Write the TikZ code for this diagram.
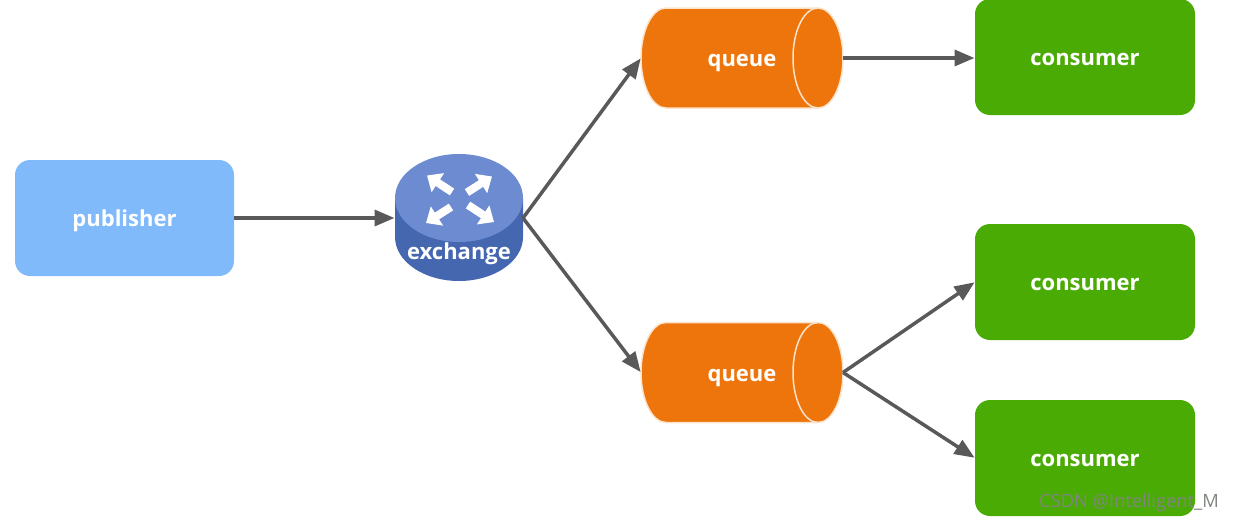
\documentclass[tikz,border=0pt]{standalone}
\usepackage{fontspec}
\setmainfont{Open Sans}
\newfontfamily\lblfont[FakeBold=0.6]{Open Sans}
\usetikzlibrary{arrows.meta}
\definecolor{pubblue}{HTML}{80BAFB}
\definecolor{congreen}{HTML}{4AAB05}
\definecolor{qorange}{HTML}{EE750C}
\definecolor{qedge}{HTML}{FBE3CC}
\definecolor{extop}{HTML}{6C8BD0}
\definecolor{exside}{HTML}{4567B0}
\definecolor{linkgray}{HTML}{595959}
\definecolor{markgray}{HTML}{808580}
\tikzset{
  x=1pt,y=-1pt,
  lbl/.style={font=\fontsize{22}{24}\selectfont\bfseries,text=white,text height=20pt,text depth=3pt},
  box/.style={rectangle,rounded corners=15pt,inner sep=0pt,outer sep=0pt,lbl},
  pubbox/.style={box,fill=pubblue,minimum width=219pt,minimum height=116pt},
  conbox/.style={box,fill=congreen,minimum width=220pt,minimum height=116pt},
  anchorbox/.style={rectangle,inner sep=0pt,outer sep=0pt},
  qbox/.style={anchorbox,lbl,minimum width=202pt,minimum height=100pt},
  exbox/.style={anchorbox,minimum width=128pt,minimum height=127pt},
  qbody/.style={fill=qorange,draw=qedge,line width=1.5pt},
  link/.style={draw=linkgray,line width=3.5pt,-{Triangle[length=20pt,width=16pt]},shorten >=0.5pt},
  exarrow/.style={draw=white,line width=8pt,-{Triangle[length=13pt,width=22pt]}}
}
\newcommand{\qshape}[2]{%
  \path[qbody] (#1-76,#2-50) -- (#1+76,#2-50)
    arc[start angle=90,end angle=-90,x radius=25,y radius=-50]
    -- (#1-76,#2+50)
    arc[start angle=270,end angle=90,x radius=25,y radius=-50] -- cycle;
  \draw[qedge,line width=1.5pt] (#1+76,#2-50) arc[start angle=90,end angle=270,x radius=25,y radius=-50];
}
\begin{document}
\begin{tikzpicture}
\useasboundingbox (0,0) rectangle (1233,522);
% queues
\qshape{742}{58}
\qshape{742}{372.5}
% exchange
\path[fill=exside] (395,198) -- (395,237) arc[start angle=180,end angle=360,x radius=64,y radius=-44] -- (523,198) -- cycle;
\path[fill=extop] (459,198) ellipse[x radius=64,y radius=44];
\draw[exarrow] (452,192) -- (427,175.5);
\draw[exarrow] (467,192.5) -- (492,176.5);
\draw[exarrow] (451,207) -- (426,223);
\draw[exarrow] (468,205) -- (494,222);
% nodes
\node[pubbox] (publisher) at (124.5,218) {publisher};
\node[exbox] (exchange) at (459,218) {};
\node[lbl,inner sep=0pt] (exlabel) at (459,251) {exchange};
\node[qbox] (queueA) at (742,58) {queue};
\node[qbox] (queueB) at (742,372.5) {queue};
\node[conbox] (consumerA) at (1085,57) {consumer};
\node[conbox] (consumerB) at (1085,282) {consumer};
\node[conbox] (consumerC) at (1085,458) {consumer};
% connectors
\draw[link] (publisher.east) -- (exchange.west);
\draw[link] (exchange.east) -- (queueA.west);
\draw[link] (exchange.east) -- (queueB.west);
\draw[link] (queueA.east) -- (consumerA.west |- queueA.east);
\draw[link] (queueB.east) -- (consumerB.west);
\draw[link] (queueB.east) -- (consumerC.west);
% watermark
\node[anchor=east,inner sep=0pt,text=markgray,font=\fontsize{18.3}{20}\selectfont] (watermark) at (1219,503) {CSDN @Intelligent\_M};
\end{tikzpicture}
\end{document}
